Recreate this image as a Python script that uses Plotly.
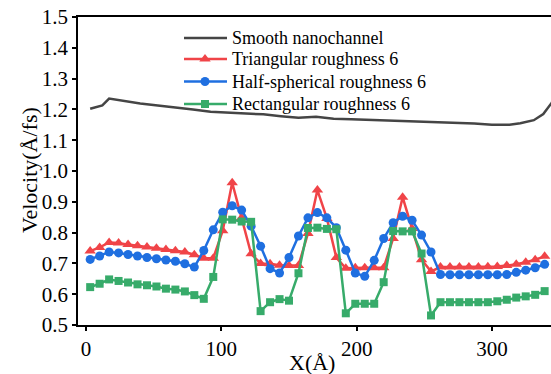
import plotly.graph_objects as go

x_pos = [3, 10, 17, 24, 31, 38, 45, 52, 59, 66, 73, 80, 87, 94, 101, 108, 115, 122, 129, 136,
         143, 150, 157, 164, 171, 178, 185, 192, 199, 206, 213, 220, 227, 234, 241, 248, 255,
         262, 269, 276, 283, 290, 297, 304, 311, 318, 325, 332, 339]

triangular = [0.740, 0.752, 0.768, 0.766, 0.761, 0.757, 0.753, 0.749, 0.745, 0.741, 0.737, 0.728,
              0.717, 0.717, 0.806, 0.962, 0.848, 0.731, 0.700, 0.699, 0.694, 0.693, 0.693, 0.797,
              0.938, 0.846, 0.719, 0.684, 0.686, 0.686, 0.686, 0.686, 0.781, 0.915, 0.813, 0.712,
              0.674, 0.688, 0.688, 0.688, 0.688, 0.688, 0.689, 0.690, 0.693, 0.697, 0.704, 0.712,
              0.723]

half_spherical = [0.713, 0.724, 0.737, 0.734, 0.729, 0.724, 0.719, 0.715, 0.711, 0.707, 0.699, 0.688,
                  0.742, 0.809, 0.866, 0.887, 0.873, 0.821, 0.756, 0.683, 0.669, 0.719, 0.789, 0.848,
                  0.865, 0.848, 0.816, 0.743, 0.669, 0.658, 0.710, 0.781, 0.832, 0.853, 0.840, 0.792,
                  0.737, 0.664, 0.663, 0.663, 0.663, 0.663, 0.663, 0.663, 0.664, 0.671, 0.678, 0.686,
                  0.697]

rectangular = [0.623, 0.634, 0.648, 0.643, 0.638, 0.632, 0.629, 0.625, 0.618, 0.615, 0.609, 0.597,
               0.585, 0.656, 0.843, 0.842, 0.836, 0.835, 0.545, 0.574, 0.584, 0.579, 0.668, 0.815,
               0.816, 0.812, 0.811, 0.538, 0.569, 0.569, 0.569, 0.639, 0.805, 0.804, 0.804, 0.732,
               0.531, 0.574, 0.574, 0.574, 0.574, 0.574, 0.574, 0.577, 0.582, 0.589, 0.593, 0.598,
               0.610]

smooth_x = [3, 12, 17, 27, 40, 53, 66, 79, 92, 105, 118, 131, 144, 157, 170, 183, 196, 209, 222,
            235, 248, 261, 271, 287, 300, 313, 321, 331, 338, 344, 348]
smooth_y = [1.202, 1.213, 1.235, 1.227, 1.219, 1.213, 1.207, 1.200, 1.192, 1.189, 1.187, 1.184,
            1.178, 1.173, 1.176, 1.170, 1.168, 1.166, 1.165, 1.163, 1.160, 1.157, 1.157, 1.154,
            1.150, 1.150, 1.155, 1.165, 1.185, 1.220, 1.250]

y_ticks = [0.5, 0.6, 0.7, 0.8, 0.9, 1.0, 1.1, 1.2, 1.3, 1.4, 1.5]
x_ticks = [0, 100, 200, 300]

series_names = ["Smooth nanochannel", "Triangular roughness 6",
                "Half-spherical roughness 6", "Rectangular roughness 6"]
series_colors = ["#454545", "#f04448", "#1f6fe0", "#37ab6a"]
series_symbols = [None, "triangle-up", "circle", "square"]
series_sizes = [0, 10, 9, 8]

FONT = "Liberation Serif"

fig = go.Figure()
fig.add_trace(go.Scatter(x=smooth_x, y=smooth_y, mode="lines", name=series_names[0],
                         line=dict(color=series_colors[0], width=2.5)))
for name, ys, col, sym, sz in zip(series_names[1:], [triangular, half_spherical, rectangular],
                                  series_colors[1:], series_symbols[1:], series_sizes[1:]):
    fig.add_trace(go.Scatter(x=x_pos, y=ys, mode="lines+markers", name=name,
                             line=dict(color=col, width=2.5),
                             marker=dict(symbol=sym, size=sz, color=col)))

# hand-placed legend on an overlay axis measured in pixels of the plot area
leg_rows = [38, 59, 81.5, 104]
for name, col, sym, sz, ry in zip(series_names, series_colors, series_symbols, series_sizes, leg_rows):
    fig.add_trace(go.Scatter(x=[184, 227], y=[ry, ry], mode="lines", xaxis="x2", yaxis="y2",
                             line=dict(color=col, width=2.5), showlegend=False, hoverinfo="skip"))
    if sym:
        fig.add_trace(go.Scatter(x=[205], y=[ry], mode="markers", xaxis="x2", yaxis="y2",
                                 marker=dict(symbol=sym, size=sz, color=col),
                                 showlegend=False, hoverinfo="skip"))
    fig.add_annotation(x=230, y=ry, xref="x2", yref="y2", text=name, showarrow=False,
                       xanchor="left", yanchor="middle",
                       font=dict(family=FONT, size=18, color="black"))

fig.add_annotation(x=0.495, y=-0.123, xref="paper", yref="paper", text="X(Å)", showarrow=False,
                   xanchor="center", yanchor="middle", font=dict(family=FONT, size=22, color="black"))
fig.add_annotation(x=-0.1036, y=0.503, xref="paper", yref="paper", text="Velocity(Å/fs)",
                   showarrow=False, textangle=-90, xanchor="center", yanchor="middle",
                   font=dict(family=FONT, size=22, color="black"))

fig.update_layout(
    width=551, height=374,
    margin=dict(l=78, r=0, t=17, b=49),
    paper_bgcolor="white", plot_bgcolor="white",
    font=dict(family=FONT, size=21, color="black"),
    showlegend=False,
    xaxis=dict(range=[-6, 343.7], tickvals=x_ticks, ticktext=[str(v) for v in x_ticks],
               showline=True, linecolor="black", linewidth=1.8, mirror=True,
               ticks="outside", ticklen=4, tickwidth=1.5, tickcolor="black",
               showgrid=False, zeroline=False, automargin=False,
               tickfont=dict(family=FONT, size=21, color="black")),
    yaxis=dict(range=[0.5, 1.5], tickvals=y_ticks, ticktext=[f"{v:.1f}" for v in y_ticks],
               showline=True, linecolor="black", linewidth=1.8, mirror=False,
               ticks="outside", ticklen=4, tickwidth=1.5, tickcolor="black",
               showgrid=False, zeroline=False, automargin=False,
               tickfont=dict(family=FONT, size=21, color="black")),
    xaxis2=dict(range=[78, 551], overlaying="x", visible=False, showgrid=False,
                zeroline=False, automargin=False),
    yaxis2=dict(range=[325, 17], overlaying="y", visible=False, showgrid=False,
                zeroline=False, automargin=False),
)

fig.write_html("out.html", config={"displayModeBar": False},
               post_script="document.body.style.margin='0';document.body.style.overflow='hidden';")
